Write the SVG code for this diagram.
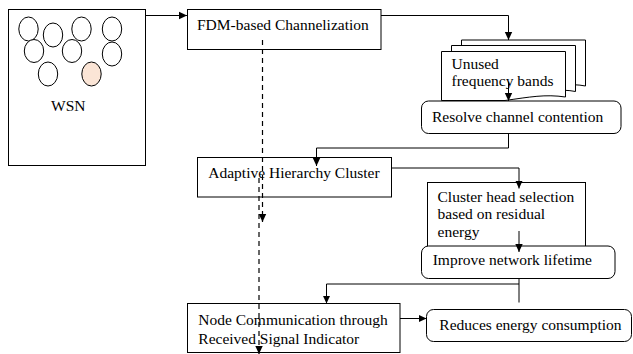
<svg xmlns="http://www.w3.org/2000/svg" width="633" height="354" viewBox="0 0 633 354" font-family="'Liberation Serif', 'Times New Roman', Times, serif">
  <defs>
    <style>
      .box { fill: #fff; stroke: #000; stroke-width: 1; }
      .node { fill: #fff; stroke: #000; stroke-width: 1; }
      .lbl { font-family: 'Liberation Serif', 'Times New Roman', Times, serif; font-size: 15.5px; fill: #000; }
      .wire { fill: none; stroke: #000; stroke-width: 1; }
      .dash { fill: none; stroke: #000; stroke-width: 1.2; stroke-dasharray: 5 4; }
    </style>
    <marker id="arrow" markerUnits="userSpaceOnUse" markerWidth="8" markerHeight="9" viewBox="0 0 8 9" refX="8" refY="4.5" orient="auto">
      <path d="M0,0.8 L8,4.5 L0,8.2 Z" fill="#000"/>
    </marker>
  </defs>

  <rect width="633" height="354" fill="#fff"/>

  <!-- sensor network field -->
  <g id="wsn">
    <rect class="box" x="8.5" y="9.5" width="137" height="156"/>
    <ellipse class="node" cx="28.5" cy="29" rx="9.7" ry="12"/>
    <ellipse class="node" cx="53" cy="35" rx="9.7" ry="12"/>
    <ellipse class="node" cx="81.5" cy="29" rx="9.7" ry="12"/>
    <ellipse class="node" cx="112" cy="29" rx="9.7" ry="12"/>
    <ellipse class="node" cx="34" cy="51" rx="9.7" ry="11.5"/>
    <ellipse class="node" cx="72" cy="51" rx="9.7" ry="11.5"/>
    <ellipse class="node" cx="112" cy="54" rx="9.7" ry="12"/>
    <ellipse class="node" cx="48" cy="74" rx="9.7" ry="12"/>
    <ellipse class="node" cx="91.5" cy="74" rx="9.7" ry="12" style="fill:#fbe5d6"/>
    <text class="lbl" x="51" y="111">WSN</text>
  </g>

  <g id="fdm">
    <rect class="box" x="187.5" y="9.5" width="193.5" height="40"/>
    <text class="lbl" x="197" y="29.5">FDM-based Channelization</text>
  </g>

  <!-- stacked pages -->
  <g id="bands">
    <path class="box" d="M461.5,40 H585.5 V86 C570,83 560,86 545,89 H461.5 Z"/>
    <path class="box" d="M451.5,45.5 H575.5 V91.5 C560,88.5 550,91.5 535,94.5 H451.5 Z"/>
    <path class="box" d="M441.5,51.5 H565.5 V97 C545,94 530,97 505,100.5 H441.5 Z"/>
    <text class="lbl" x="451.5" y="68.5">Unused</text>
    <text class="lbl" x="451.5" y="86">frequency bands</text>
  </g>

  <g id="resolve">
    <rect class="box" x="421.5" y="101" width="199.5" height="32.5" rx="7"/>
    <text class="lbl" x="432" y="121.5">Resolve channel contention</text>
  </g>

  <g id="adaptive">
    <rect class="box" x="197.5" y="157.5" width="194" height="39.5"/>
    <text class="lbl" x="208.3" y="178">Adaptive Hierarchy Cluster</text>
  </g>

  <g id="clusterhead">
    <rect class="box" x="427.5" y="182.5" width="158" height="66"/>
    <text class="lbl" x="437.5" y="201.7">Cluster head selection</text>
    <text class="lbl" x="437.5" y="219.3">based on residual</text>
    <text class="lbl" x="437.5" y="236.5">energy</text>
  </g>

  <g id="lifetime">
    <rect class="box" x="421.5" y="246" width="193.5" height="32.5" rx="7"/>
    <text class="lbl" x="432.7" y="264.5">Improve network lifetime</text>
  </g>

  <g id="rssi">
    <rect class="box" x="187.5" y="303.5" width="212.5" height="49"/>
    <text class="lbl" x="198.3" y="325">Node Communication through</text>
    <text class="lbl" x="198.3" y="344">Received Signal Indicator</text>
  </g>

  <g id="energy">
    <rect class="box" x="426.5" y="309.5" width="205" height="32" rx="7"/>
    <text class="lbl" x="439.3" y="330">Reduces energy consumption</text>
  </g>

  <!-- connectors -->
  <g id="connectors">
    <path class="wire" d="M145.5,15.5 H187" marker-end="url(#arrow)"/>
    <path class="wire" d="M381,15.5 H508.5 V40" marker-end="url(#arrow)"/>
    <path class="wire" d="M508.5,82 V101" marker-end="url(#arrow)"/>
    <path class="wire" d="M508.5,133.5 V148 H316.5 V166" marker-end="url(#arrow)"/>
    <path class="wire" d="M391.5,168 H519 V188.5" marker-end="url(#arrow)"/>
    <path class="wire" d="M519,231 V252" marker-end="url(#arrow)"/>
    <path class="wire" d="M519,278.5 V302.5"/>
    <path class="wire" d="M519,284 H326.5 V303.5" marker-end="url(#arrow)"/>
    <path class="wire" d="M400,318.5 H426.5" marker-end="url(#arrow)"/>
    <path class="dash" d="M262.5,40 V222" marker-end="url(#arrow)"/>
    <path class="dash" d="M259,178 V354" marker-end="url(#arrow)"/>
  </g>
</svg>
